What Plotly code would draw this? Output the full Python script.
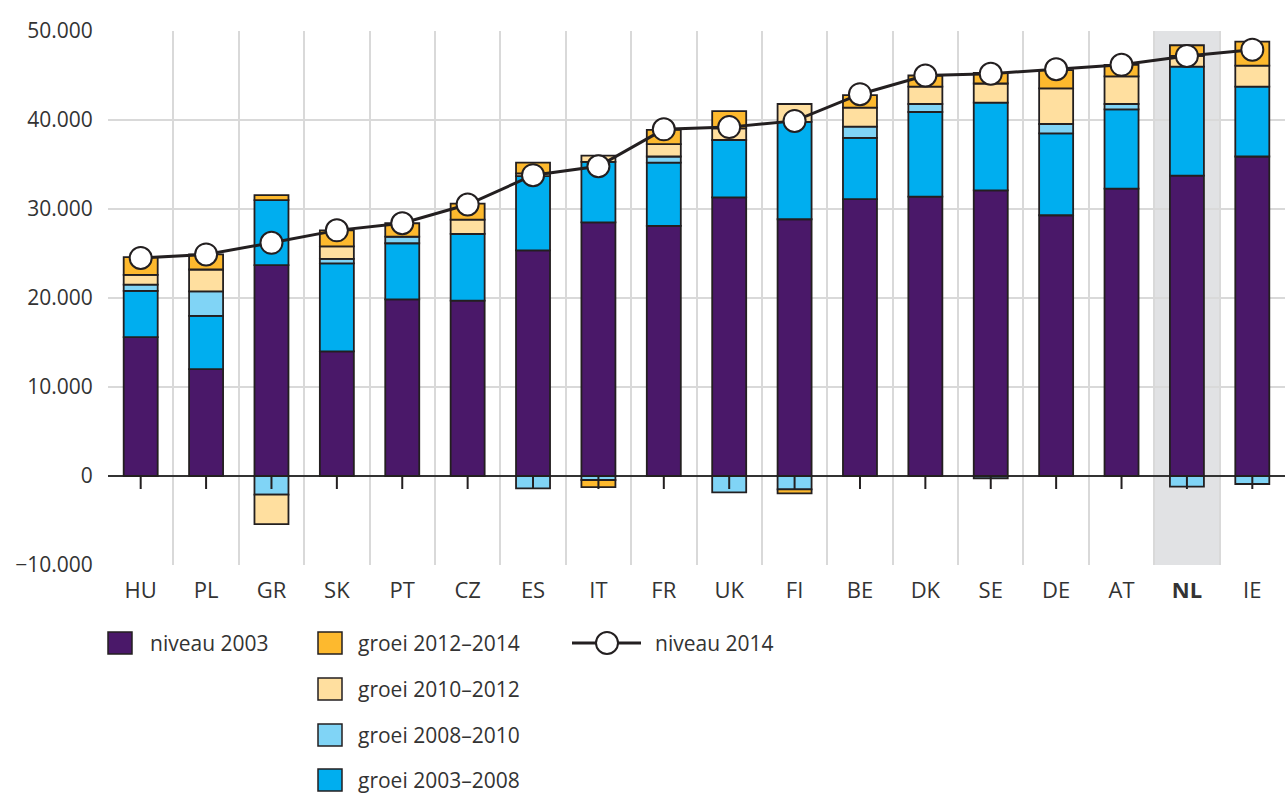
import plotly.graph_objects as go

countries = ["HU", "PL", "GR", "SK", "PT", "CZ", "ES", "IT", "FR", "UK", "FI", "BE", "DK", "SE", "DE", "AT", "NL", "IE"]
tick_labels = ["HU", "PL", "GR", "SK", "PT", "CZ", "ES", "IT", "FR", "UK", "FI", "BE", "DK", "SE", "DE", "AT", "<b>NL</b>", "IE"]
highlight = "NL"

niveau_2003 = [15600, 12000, 23700, 14000, 19850, 19700, 25350, 28500, 28100, 31300, 28850, 31100, 31400, 32100, 29300, 32300, 33750, 35900]
groei_2003_2008 = [5200, 6000, 7300, 9900, 6300, 7500, 8350, 6800, 7100, 6450, 10950, 6900, 9500, 9850, 9200, 8900, 12250, 7850]
groei_2008_2010 = [700, 2750, -2100, 500, 750, 0, -1400, -450, 700, -1850, -1500, 1250, 900, -250, 1050, 600, -1200, -900]
groei_2010_2012 = [1100, 2450, -3300, 1400, 0, 1600, 300, 700, 1400, 1300, 2000, 2150, 1950, 2150, 4000, 3100, 1200, 2350]
groei_2012_2014 = [2000, 1700, 550, 1800, 1500, 1800, 1200, -800, 1600, 1950, -450, 1400, 1250, 1200, 2050, 1300, 1200, 2700]
niveau_2014 = [24500, 24900, 26200, 27600, 28400, 30500, 33800, 34800, 38950, 39200, 39900, 42900, 45000, 45200, 45700, 46200, 47200, 47900]

y_ticks = [-10000, 0, 10000, 20000, 30000, 40000, 50000]

DARK = "#231f20"
GRID = "#d9d9d9"
FONT = "Open Sans"
series = [
    ("niveau 2003", niveau_2003, "#4a1869"),
    ("groei 2003–2008", groei_2003_2008, "#00aeef"),
    ("groei 2008–2010", groei_2008_2010, "#80d4f6"),
    ("groei 2010–2012", groei_2010_2012, "#ffdf9f"),
    ("groei 2012–2014", groei_2012_2014, "#fdb92e"),
]

W, H = 1287, 796
ML, MR, MT, MB = 108, 2, 31, 231
PW, PH = W - ML - MR, H - MT - MB

def px(x):
    return (x - ML) / PW

def py(y):
    return (H - MB - y) / PH

fig = go.Figure()
for name, vals, col in series:
    fig.add_trace(go.Bar(
        x=countries, y=vals, name=name, width=0.52,
        marker=dict(color=col, line=dict(color=DARK, width=1.8)),
        showlegend=False,
    ))

fig.add_trace(go.Scatter(
    x=countries, y=niveau_2014, name="niveau 2014", mode="lines+markers",
    line=dict(color=DARK, width=3),
    marker=dict(size=22, color="white", line=dict(color=DARK, width=2)),
    showlegend=False,
))

shapes = []
hi = countries.index(highlight)
shapes.append(dict(type="rect", xref="x", yref="paper", x0=hi - 0.5, x1=hi + 0.5, y0=0, y1=1,
                   fillcolor="#e1e2e4", line=dict(width=0), layer="below"))
for c in countries:
    shapes.append(dict(type="line", xref="x", yref="y", x0=c, x1=c, ysizemode="pixel",
                       yanchor=0, y0=0, y1=-13, line=dict(color=DARK, width=2)))

annotations = []

def legend_box(xc, yc, col):
    shapes.append(dict(type="rect", xref="paper", yref="paper",
                       x0=px(xc - 12), x1=px(xc + 12), y0=py(yc - 11), y1=py(yc + 11),
                       fillcolor=col, line=dict(color=DARK, width=1.5)))

def legend_text(x, yc, text):
    annotations.append(dict(xref="paper", yref="paper", x=px(x), y=py(yc), text=text,
                            showarrow=False, xanchor="left", yanchor="middle",
                            font=dict(family=FONT, size=21, color="#333333")))

legend_box(120, 643, series[0][2])
legend_text(148, 643, series[0][0])
rows = [643, 689, 735, 780]
for (name, _, col), yc in zip([series[4], series[3], series[2], series[1]], rows):
    legend_box(330, yc, col)
    legend_text(356, yc, name)
shapes.append(dict(type="line", xref="paper", yref="paper", x0=px(572), x1=px(641),
                   y0=py(643), y1=py(643), line=dict(color=DARK, width=3)))
shapes.append(dict(type="circle", xref="paper", yref="paper", x0=px(596), x1=px(618),
                   y0=py(654), y1=py(632), fillcolor="white", line=dict(color=DARK, width=2)))
legend_text(653, 643, "niveau 2014")

fig.update_layout(
    width=W, height=H, autosize=False,
    margin=dict(l=ML, r=MR, t=MT, b=MB),
    paper_bgcolor="white", plot_bgcolor="white",
    barmode="relative", bargap=0.48,
    separators=",.",
    font=dict(family=FONT, size=22, color="#333333"),
    shapes=shapes, annotations=annotations,
    showlegend=False,
    xaxis=dict(
        type="category", tickmode="array", tickvals=countries, ticktext=tick_labels,
        tickson="boundaries", showgrid=True, gridcolor=GRID, gridwidth=2,
        ticks="", ticklabelstandoff=10, showline=False, zeroline=False,
        range=[-0.5, len(countries) - 0.5],
        tickfont=dict(family=FONT, size=22, color="#333333"),
    ),
    yaxis=dict(
        range=[-10000, 50000], tickvals=y_ticks, tickformat=",d",
        showgrid=True, gridcolor=GRID, gridwidth=2,
        zeroline=True, zerolinecolor="#333333", zerolinewidth=2,
        ticks="outside", ticklen=10, tickcolor="rgba(0,0,0,0)",
        showline=False,
        tickfont=dict(family=FONT, size=21, color="#333333"),
    ),
)

fig.write_html("out.html", config={"displayModeBar": False},
               post_script="document.body.style.margin='0';")
